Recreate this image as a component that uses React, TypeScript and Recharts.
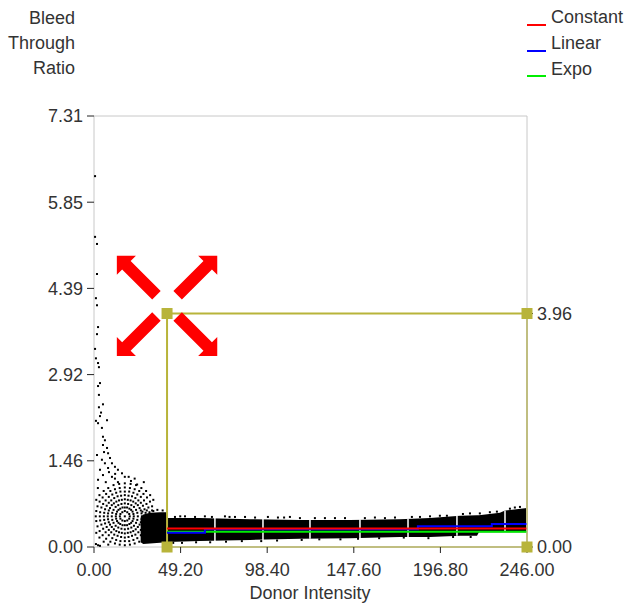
import React from 'react';
import { ComposedChart, XAxis, YAxis, Area, Line, Scatter, ReferenceArea } from 'recharts';

// Axis ticks
const xTicks = [0, 49.2, 98.4, 147.6, 196.8, 246];
const yTicks = [0, 1.462, 2.924, 4.386, 5.848, 7.31];
const topTicks = [44, 255];
const rightTicks = [0, 3.96];

// Dense band of points (donor intensity vs. low/high ratio)
const bandX = [26.5, 28, 31.8, 37.5, 41.3, 41.8, 60, 88.6, 117, 145.4, 173.8, 190.9, 208, 217.6, 218.7, 230.6, 233.5, 240, 246];
const bandLo = [0.08, 0.05, 0.06, 0.07, 0.08, 0.085, 0.1, 0.12, 0.14, 0.15, 0.17, 0.17, 0.19, 0.19, 0.25, 0.25, 0.25, 0.25, 0.25];
const bandHi = [0.5, 0.55, 0.58, 0.59, 0.59, 0.49, 0.49, 0.47, 0.46, 0.46, 0.47, 0.49, 0.53, 0.54, 0.54, 0.58, 0.62, 0.64, 0.66];

// Quantization gaps in the band
const gapX = [68.7, 96.0, 122.7, 151.1, 178.4, 206.2, 233.5];
const gapLo = [0.1, 0.12, 0.14, 0.15, 0.17, 0.19, 0.25];
const gapHi = [0.5, 0.48, 0.47, 0.47, 0.48, 0.53, 0.62];

// Low-intensity cluster points (concentric rings)
const ring1: [number, number][] = [
  [17.5, 0.52], [20.3, 0.52], [20.0, 0.56], [18.9, 0.59], [17.5, 0.61], [16.1, 0.59], [15.0, 0.56], [14.7, 0.52], [15.0, 0.48], [16.1, 0.45], [17.5, 0.44], [18.9, 0.45], [20.0, 0.48],
];
const ring2: [number, number][] = [
  [22.6, 0.52], [22.4, 0.56], [21.9, 0.60], [21.1, 0.63], [20.1, 0.65], [18.8, 0.67], [17.5, 0.67],
  [16.2, 0.67], [14.9, 0.65], [13.9, 0.63], [13.1, 0.60], [12.6, 0.56], [12.4, 0.52],
  [12.6, 0.48], [13.1, 0.44], [13.9, 0.41], [14.9, 0.39], [16.2, 0.37], [17.5, 0.37],
  [18.8, 0.37], [20.1, 0.39], [21.1, 0.41], [21.9, 0.44], [22.4, 0.48],
];
const ring3: [number, number][] = [
  [24.9, 0.52], [24.6, 0.58], [23.9, 0.63], [22.7, 0.68], [21.2, 0.71], [19.4, 0.73], [17.5, 0.74],
  [15.6, 0.73], [13.8, 0.71], [12.3, 0.68], [11.1, 0.63], [10.4, 0.58], [10.1, 0.52],
  [10.4, 0.46], [11.1, 0.41], [12.3, 0.36], [13.8, 0.33], [15.6, 0.31], [17.5, 0.30],
  [19.4, 0.31], [21.2, 0.33], [22.7, 0.36], [23.9, 0.41], [24.6, 0.46],
];
const ring4: [number, number][] = [
  [27.2, 0.52], [27.0, 0.57], [26.6, 0.62], [25.9, 0.66], [24.9, 0.71], [23.7, 0.74], [22.3, 0.77], [20.8, 0.79], [19.2, 0.80], [17.5, 0.81],
  [15.8, 0.80], [14.2, 0.79], [12.7, 0.77], [11.3, 0.74], [10.1, 0.71], [9.1, 0.66], [8.4, 0.62], [8.0, 0.57], [7.8, 0.52],
  [8.0, 0.47], [8.4, 0.42], [9.1, 0.38], [10.1, 0.34], [11.3, 0.30], [12.7, 0.27], [14.2, 0.25], [15.8, 0.24], [17.5, 0.23],
  [19.2, 0.24], [20.8, 0.25], [22.3, 0.27], [23.7, 0.30], [24.9, 0.34], [25.9, 0.38], [26.6, 0.42], [27.0, 0.47],
];
const ring5: [number, number][] = [
  [29.4, 0.52], [29.3, 0.58], [28.7, 0.64], [27.8, 0.70], [26.6, 0.75], [25.2, 0.79], [23.5, 0.83], [21.6, 0.86], [19.6, 0.87], [17.5, 0.88],
  [15.4, 0.87], [13.4, 0.86], [11.5, 0.83], [9.8, 0.79], [8.4, 0.75], [7.2, 0.70], [6.3, 0.64], [5.8, 0.58], [5.6, 0.52],
  [5.8, 0.46], [6.3, 0.40], [7.2, 0.34], [8.4, 0.29], [9.8, 0.25], [11.5, 0.21], [13.4, 0.19], [15.4, 0.17], [17.5, 0.16],
  [19.6, 0.17], [21.6, 0.19], [23.5, 0.21], [25.2, 0.25], [26.6, 0.29], [27.8, 0.34], [28.7, 0.40], [29.3, 0.46],
];
const ring6: [number, number][] = [
  [31.7, 0.52], [31.5, 0.59], [30.9, 0.67], [29.8, 0.73], [28.4, 0.79], [26.6, 0.85], [24.6, 0.89], [22.4, 0.92], [20.0, 0.94], [17.5, 0.94],
  [15.0, 0.94], [12.6, 0.92], [10.4, 0.89], [8.4, 0.85], [6.6, 0.79], [5.2, 0.73], [4.2, 0.67], [3.5, 0.59], [3.3, 0.52],
  [3.5, 0.45], [4.2, 0.38], [5.2, 0.31], [6.6, 0.25], [8.4, 0.20], [10.4, 0.15], [12.6, 0.12], [15.0, 0.10], [17.5, 0.10],
  [20.0, 0.10], [22.4, 0.12], [24.6, 0.15], [26.6, 0.20], [28.4, 0.25], [29.8, 0.31], [30.9, 0.38], [31.5, 0.45],
];
const ring7: [number, number][] = [
  [33.7, 0.61], [33.0, 0.69], [31.8, 0.77], [30.1, 0.84], [28.1, 0.90], [25.7, 0.95], [23.1, 0.98], [20.4, 1.0], [17.5, 1.01],
  [14.6, 1.0], [11.9, 0.98], [9.3, 0.95], [6.9, 0.90], [4.9, 0.84], [3.2, 0.77], [2.0, 0.69], [1.3, 0.61], [1.0, 0.52],
  [1.3, 0.44], [2.0, 0.35], [3.2, 0.27], [4.9, 0.20], [6.9, 0.14], [9.3, 0.09], [11.9, 0.06], [14.6, 0.04], [17.5, 0.03],
  [20.4, 0.04], [23.1, 0.06], [25.7, 0.09], [28.1, 0.14], [30.1, 0.20], [31.8, 0.27], [33.0, 0.35],
];
const ring8: [number, number][] = [
  [33.7, 0.80], [31.9, 0.88], [29.6, 0.95], [26.9, 1.0], [23.9, 1.05], [20.8, 1.07], [17.5, 1.08], [14.3, 1.07], [11.1, 1.05], [8.1, 1.0], [5.5, 0.95], [3.1, 0.88], [1.3, 0.80],
  [1.3, 0.24], [3.1, 0.16], [5.5, 0.09], [8.1, 0.04],
  [28.3, 1.10], [23.1, 1.16], [17.5, 1.19], [11.9, 1.16], [6.7, 1.10], [2.2, 1.0],
  [1.1, 0.05], [2.3, 0.03], [3.4, 0.02],
];

// Sparse upper arcs
const arcPts: [number, number][] = [
  [2.3, 2.1], [4.5, 2.02], [5.1, 1.87], [6.2, 1.81], [5.1, 1.73], [7.4, 1.68], [5.7, 1.61], [8.0, 1.59], [1.7, 1.56], [9.1, 1.51],
  [4.5, 1.48], [6.2, 1.42], [10.2, 1.42], [11.9, 1.36], [8.0, 1.34], [13.6, 1.31], [3.4, 1.31], [15.9, 1.25], [5.1, 1.22], [10.2, 1.19],
  [19.7, 1.19], [2.3, 1.14], [13.6, 1.10], [21.0, 1.12], [8.5, 1.27], [12.0, 1.24], [24.5, 1.06],
];

// High-ratio outliers at very low intensity
const sparsePts: [number, number][] = [
  [0.6, 6.29], [0.6, 5.26], [1.7, 5.14], [1.7, 4.63], [1.1, 4.22], [1.7, 4.10], [2.3, 3.73], [1.7, 3.61], [0.6, 3.36], [1.1, 3.2],
  [2.3, 3.12], [2.8, 3.05], [3.4, 2.78], [2.3, 2.73], [2.8, 2.58], [5.1, 2.42], [2.8, 2.37], [4.0, 2.28], [3.4, 2.22], [7.4, 2.15], [1.1, 2.14],
];

// Ragged edge points above/below the band
const edgePts: [number, number][] = [
  [27.5, 0.6], [30.0, 0.62], [33.0, 0.62], [36.0, 0.63], [39.0, 0.62],
  [46.0, 0.51], [49.0, 0.52], [51.7, 0.52], [57.4, 0.51], [63.0, 0.52], [67.0, 0.51], [74.4, 0.52], [77.0, 0.51], [80.1, 0.51], [85.8, 0.51], [91.5, 0.5], [98.8, 0.51],
  [104.5, 0.5], [108.0, 0.5], [111.3, 0.51], [117.0, 0.49], [125.5, 0.49], [131.2, 0.49], [136.9, 0.49], [142.6, 0.49], [153.9, 0.49], [159.6, 0.5], [165.3, 0.49],
  [171.0, 0.5], [180.6, 0.51], [185.2, 0.51], [190.9, 0.52], [196.5, 0.53], [200.5, 0.53], [209.6, 0.56], [213.6, 0.57], [219.2, 0.57], [224.9, 0.59],
  [228.9, 0.6], [236.3, 0.65], [239.1, 0.67], [242.0, 0.68],
  [45, 0.07], [50, 0.07], [58, 0.08], [66, 0.08], [75, 0.09], [84, 0.1], [95, 0.1], [104, 0.11], [118, 0.12], [128, 0.13], [140, 0.13],
  [150, 0.14], [162, 0.15], [176, 0.16], [190, 0.15], [204, 0.17], [214, 0.17],
];

// Fits
const fitX = [41.5, 246];
const constantY = [0.315, 0.315];
const expoY = [0.26, 0.26];
const linearX = [41.5, 63, 184, 226, 246];
const linearY = [0.24, 0.3, 0.35, 0.39, 0.39];

// Region of interest
const roiX = [41.5, 246];
const roiY = [0, 3.96];
const arrowAnchor = { x: 41.5, y: 4.09 };

const bandData = bandX.map((x, i) => ({ x, range: [bandLo[i], bandHi[i]] }));
const gapData: { x: number; y: number | null }[] = [];
gapX.forEach((x, i) => {
  gapData.push({ x, y: gapLo[i] });
  gapData.push({ x, y: gapHi[i] });
  gapData.push({ x, y: null });
});
const toObj = (arr: [number, number][]) => arr.map(([x, y]) => ({ x, y }));
const dotData = [ring1, ring2, ring3, ring4, ring5, ring6, ring7, ring8, arcPts, sparsePts, edgePts].flatMap(toObj);
const constantData = fitX.map((x, i) => ({ x, y: constantY[i] }));
const expoData = fitX.map((x, i) => ({ x, y: expoY[i] }));
const linearData = linearX.map((x, i) => ({ x, y: linearY[i] }));
const cornerData = [
  { x: roiX[0], y: roiY[1] }, { x: roiX[1], y: roiY[1] },
  { x: roiX[0], y: roiY[0] }, { x: roiX[1], y: roiY[0] },
];

const OLIVE = '#b8b43a';
const FONT = '"Liberation Sans", Arial, sans-serif';
const fmt = (v: number) => v.toFixed(2);

const Dot = (p: any) => <rect x={p.cx - 1} y={p.cy - 1} width={2} height={2} fill="#000" />;
const Corner = (p: any) => <rect x={p.cx - 5.5} y={p.cy - 5.5} width={11} height={11} fill={OLIVE} />;
const Arrows = (p: any) => {
  const d0 = 15, d1 = 71, h = 13.5, H = 13.5, w = 6;
  const pts = `${d0},${-w} ${d1 - h},${-w} ${d1 - h},${-H} ${d1},0 ${d1 - h},${H} ${d1 - h},${w} ${d0},${w}`;
  return (
    <g transform={`translate(${p.cx},${p.cy})`}>
      {[-135, -45, 45, 135].map((a) => (
        <polygon key={a} points={pts} transform={`rotate(${a})`} fill="#ff0000" />
      ))}
    </g>
  );
};

const tickStyle = { fill: '#333', fontSize: 18, fontFamily: FONT };
const tickLine = { stroke: '#222' };
const axisLine = { stroke: '#c8c8c8' };

const legendItems = [
  { name: 'Constant', color: '#ff0000' },
  { name: 'Linear', color: '#0000ff' },
  { name: 'Expo', color: '#00ee00' },
];
const yLabelLines = ['Bleed', 'Through', 'Ratio'];

export default function App() {
  return (
    <div style={{ position: 'absolute', left: 0, top: 0, width: 627, height: 606, background: '#fff', fontFamily: FONT, color: '#333', overflow: 'hidden' }}>
      <ComposedChart width={627} height={606} data={bandData} margin={{ top: 86, right: 40, bottom: 19, left: 34 }}>
        <XAxis xAxisId="b" dataKey="x" type="number" domain={[0, 246]} ticks={xTicks} interval={0} tickFormatter={fmt}
          tick={tickStyle} tickLine={tickLine} axisLine={axisLine} tickSize={6} tickMargin={10} height={40} />
        <XAxis xAxisId="t" orientation="top" type="number" domain={[1.21, 255]} ticks={topTicks} interval={0} tickFormatter={fmt}
          tick={tickStyle} tickLine={tickLine} axisLine={axisLine} tickSize={6} tickMargin={6} height={30} allowDataOverflow />
        <YAxis yAxisId="l" type="number" domain={[0, 7.31]} ticks={yTicks} interval={0} tickFormatter={fmt}
          tick={tickStyle} tickLine={tickLine} axisLine={axisLine} tickSize={7} tickMargin={4} width={60} />
        <YAxis yAxisId="r" orientation="right" type="number" domain={[0, 7.31]} ticks={rightTicks} interval={0} tickFormatter={fmt}
          tick={tickStyle} tickLine={tickLine} axisLine={axisLine} tickSize={6} tickMargin={4} width={60} allowDataOverflow />
        <Area xAxisId="b" yAxisId="l" dataKey="range" type="linear" fill="#000" fillOpacity={1} stroke="none" dot={false} activeDot={false} isAnimationActive={false} />
        <Line xAxisId="b" yAxisId="l" data={gapData} dataKey="y" stroke="#fff" strokeWidth={1.5} dot={false} activeDot={false} connectNulls={false} isAnimationActive={false} />
        <Scatter xAxisId="b" yAxisId="l" data={dotData} dataKey="y" shape={Dot} isAnimationActive={false} />
        <Line xAxisId="b" yAxisId="l" data={expoData} dataKey="y" stroke="#00ee00" strokeWidth={2} dot={false} activeDot={false} isAnimationActive={false} />
        <Line xAxisId="b" yAxisId="l" data={linearData} dataKey="y" type="stepAfter" stroke="#0000ff" strokeWidth={2} dot={false} activeDot={false} isAnimationActive={false} />
        <Line xAxisId="b" yAxisId="l" data={constantData} dataKey="y" stroke="#ff0000" strokeWidth={2} dot={false} activeDot={false} isAnimationActive={false} />
        <ReferenceArea xAxisId="b" yAxisId="l" x1={roiX[0]} x2={roiX[1]} y1={roiY[0]} y2={roiY[1]} fill="none" fillOpacity={0} stroke={OLIVE} strokeWidth={2} ifOverflow="visible" />
        <Scatter xAxisId="b" yAxisId="l" data={cornerData} dataKey="y" shape={Corner} isAnimationActive={false} />
        <Scatter xAxisId="b" yAxisId="l" data={[arrowAnchor]} dataKey="y" shape={Arrows} isAnimationActive={false} />
      </ComposedChart>
      {yLabelLines.map((t, i) => (
        <div key={t} style={{ position: 'absolute', left: 0, width: 75, top: 9 + i * 25, textAlign: 'right', fontSize: 18, lineHeight: '18px' }}>{t}</div>
      ))}
      {legendItems.map((it, i) => (
        <React.Fragment key={it.name}>
          <div style={{ position: 'absolute', left: 527, top: 24 + i * 25.5, width: 19, height: 2, background: it.color }} />
          <div style={{ position: 'absolute', left: 551, top: 8 + i * 26, fontSize: 18, lineHeight: '18px', whiteSpace: 'nowrap' }}>{it.name}</div>
        </React.Fragment>
      ))}
      <div style={{ position: 'absolute', left: 160, width: 300, top: 584, textAlign: 'center', fontSize: 18, lineHeight: '18px' }}>Donor Intensity</div>
    </div>
  );
}
